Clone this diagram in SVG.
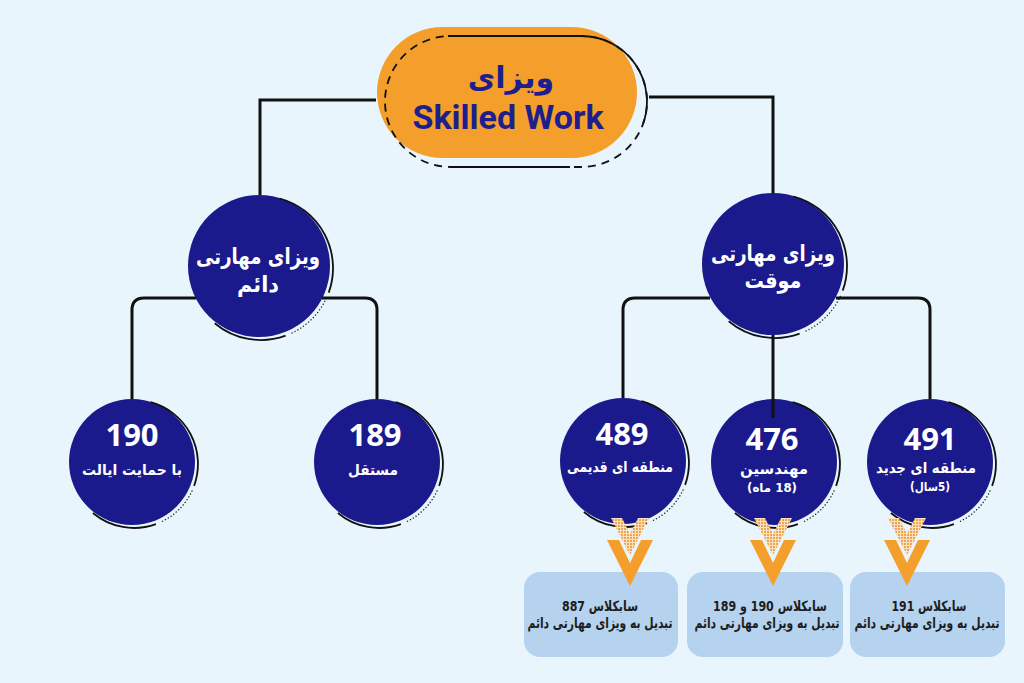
<svg xmlns="http://www.w3.org/2000/svg" xmlns:xlink="http://www.w3.org/1999/xlink" width="1024" height="683" viewBox="0 0 1024 683">
<style>
.bg{fill:#e9f5fd}
.conn{fill:none;stroke:#111;stroke-width:3}
.navy{fill:#1a1a8c}
.deco{fill:none;stroke:#111;stroke-width:1.8}
.dots{fill:none;stroke:#222;stroke-width:1.4;stroke-dasharray:0.1 3.2;stroke-linecap:round}
.fa{font-family:"DejaVu Sans",sans-serif;font-weight:bold;text-anchor:middle;direction:rtl}
.num{font-family:"Open Sans","Roboto",sans-serif;font-weight:bold;font-size:31px;fill:#fff;text-anchor:middle}
.w{fill:#fff}
.box{fill:#b5d3ef}
.bt{fill:#1d1d1d;font-size:14px}
.bt2{fill:#1d1d1d;font-size:15px}
</style>
<defs>
<path id="decoBig" d="M20.6 -67.5 A72 72 0 0 1 69.7 26.6 M26.6 69.7 A72 72 0 0 1 -44.3 57.2"/>
<path id="dotBig" d="M67.3 32.4 A72 72 0 0 1 32.4 67.3"/>
<path id="decoSm" d="M18.6 -59.8 A64 64 0 0 1 62.1 23.9 M23.9 62.1 A64 64 0 0 1 -39.1 51"/>
<path id="dotSm" d="M60 29 A64 64 0 0 1 29 60"/>
<pattern id="dotpat" width="3" height="3" patternUnits="userSpaceOnUse">
<rect width="3" height="3" fill="#f7e2c4"/>
<rect width="2" height="2" fill="#efa550"/>
</pattern>
<g id="chev">
<polygon points="-19,518 -8,518 0,534 8,518 19,518 0,555" fill="url(#dotpat)"/>
<polygon points="-23,540 -11,540 0,563 11,540 23,540 0,586" fill="#f49e2c"/>
</g>
</defs>
<rect class="bg" width="1024" height="683"/>

<g id="node-top">
<rect x="377" y="27" width="260" height="131" rx="65.5" fill="#f49e2c"/>
<rect x="385" y="36" width="262" height="131" rx="65.5" fill="none" stroke="#111" stroke-width="1.8" stroke-dasharray="8 6"/>
<path d="M448 36 H581.5 A65.5 65.5 0 0 1 643 123.9 M450 167 H570" fill="none" stroke="#111" stroke-width="1.8"/>
<text class="fa" x="511" y="88" font-size="30" fill="#1e1e8c">ویزای</text>
<text x="508" y="129" font-family="Roboto, 'Liberation Sans', sans-serif" font-weight="bold" font-size="34" fill="#1e1e8c" text-anchor="middle">Skilled Work</text>
</g>

<g id="node-permanent">
<circle class="navy" cx="259" cy="266" r="71"/>
<use href="#decoBig" x="259" y="266" class="deco"/>
<use href="#dotBig" x="259" y="266" class="dots"/>
<text class="fa w" x="258" y="264" font-size="22" textLength="124" lengthAdjust="spacingAndGlyphs">ویزای مهارتی</text>
<text class="fa w" x="258" y="292" font-size="22" textLength="42" lengthAdjust="spacingAndGlyphs">دائم</text>
</g>

<g id="node-temporary">
<circle class="navy" cx="773" cy="264" r="71"/>
<use href="#decoBig" x="773" y="264" class="deco"/>
<use href="#dotBig" x="773" y="264" class="dots"/>
<text class="fa w" x="773" y="261" font-size="22" textLength="124" lengthAdjust="spacingAndGlyphs">ویزای مهارتی</text>
<text class="fa w" x="773" y="288" font-size="22" textLength="57" lengthAdjust="spacingAndGlyphs">موقت</text>
</g>

<g id="node-190">
<circle class="navy" cx="132" cy="462" r="63"/>
<use href="#decoSm" x="132" y="462" class="deco"/>
<use href="#dotSm" x="132" y="462" class="dots"/>
<text class="num" x="132" y="446">190</text>
<text class="fa w" x="132" y="475" font-size="15" textLength="100" lengthAdjust="spacingAndGlyphs">با حمایت ایالت</text>
</g>

<g id="node-189">
<circle class="navy" cx="377" cy="462" r="63"/>
<use href="#decoSm" x="377" y="462" class="deco"/>
<use href="#dotSm" x="377" y="462" class="dots"/>
<text class="num" x="375" y="446">189</text>
<text class="fa w" x="373" y="475" font-size="15" textLength="50" lengthAdjust="spacingAndGlyphs">مستقل</text>
</g>

<g id="node-489">
<circle class="navy" cx="623" cy="461" r="63"/>
<use href="#decoSm" x="623" y="461" class="deco"/>
<use href="#dotSm" x="623" y="461" class="dots"/>
<text class="num" x="622" y="445">489</text>
<text class="fa w" x="620" y="472" font-size="15" textLength="106" lengthAdjust="spacingAndGlyphs">منطقه ای قدیمی</text>
</g>

<g id="node-476">
<circle class="navy" cx="774" cy="462" r="63"/>
<use href="#decoSm" x="774" y="462" class="deco"/>
<use href="#dotSm" x="774" y="462" class="dots"/>
<text class="num" x="772" y="450">476</text>
<text class="fa w" x="774" y="474" font-size="15" textLength="68" lengthAdjust="spacingAndGlyphs">مهندسین</text>
<text class="fa w" x="772" y="492" font-size="12" textLength="50" lengthAdjust="spacingAndGlyphs">(18 ماه)</text>
</g>

<g id="node-491">
<circle class="navy" cx="930" cy="462" r="63"/>
<use href="#decoSm" x="930" y="462" class="deco"/>
<use href="#dotSm" x="930" y="462" class="dots"/>
<text class="num" x="930" y="450">491</text>
<text class="fa w" x="926" y="473" font-size="15" textLength="100" lengthAdjust="spacingAndGlyphs">منطقه ای جدید</text>
<text class="fa w" x="930" y="491" font-size="12" textLength="40" lengthAdjust="spacingAndGlyphs">(5سال)</text>
</g>

<g id="connectors">
<path class="conn" d="M376 100 H260 V195"/>
<path class="conn" d="M649 97 H773 V193"/>
<path class="conn" d="M196 298 H144 Q132 298 132 310 V399"/>
<path class="conn" d="M322 298 H365 Q377 298 377 310 V399"/>
<path class="conn" d="M710 298 H635 Q623 298 623 310 V398"/>
<path class="conn" d="M836 298 H918 Q930 298 930 310 V399"/>
<path class="conn" d="M773 335 V418"/>
</g>

<g id="box-887">
<rect class="box" x="524" y="572" width="154" height="85" rx="16"/>
<text class="fa bt" x="600" y="611" textLength="76" lengthAdjust="spacingAndGlyphs">سابکلاس 887</text>
<text class="fa bt2" transform="translate(600 628) scale(0.74 1)" x="0" y="0" textLength="196" lengthAdjust="spacingAndGlyphs">تبدیل به ویزای مهارتی دائم</text>
</g>

<g id="box-190-189">
<rect class="box" x="687" y="572" width="156" height="85" rx="16"/>
<text class="fa bt" x="770" y="611" textLength="114" lengthAdjust="spacingAndGlyphs">سابکلاس 190 و 189</text>
<text class="fa bt2" transform="translate(767 628) scale(0.74 1)" x="0" y="0" textLength="196" lengthAdjust="spacingAndGlyphs">تبدیل به ویزای مهارتی دائم</text>
</g>

<g id="box-191">
<rect class="box" x="850" y="572" width="155" height="85" rx="16"/>
<text class="fa bt" x="929" y="611" textLength="75" lengthAdjust="spacingAndGlyphs">سابکلاس 191</text>
<text class="fa bt2" transform="translate(927 628) scale(0.74 1)" x="0" y="0" textLength="196" lengthAdjust="spacingAndGlyphs">تبدیل به ویزای مهارتی دائم</text>
</g>

<g id="arrows">
<use href="#chev" x="630"/>
<use href="#chev" x="773"/>
<use href="#chev" x="907"/>
</g>
</svg>
